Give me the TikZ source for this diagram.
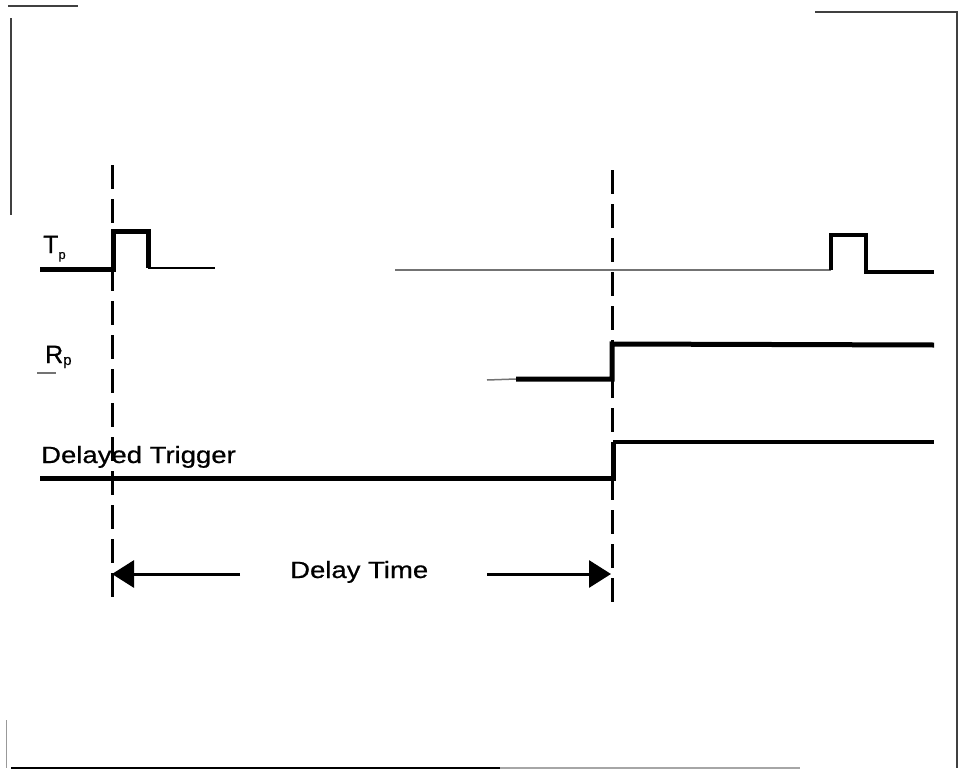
\documentclass[tikz,border=0pt]{standalone}
\usepackage{fontspec}
\usepackage{graphicx}
\setmainfont{Liberation Sans}[FakeBold=0.6]
\usetikzlibrary{arrows.meta}
\tikzset{
  sig/.style={line width=5pt, line join=miter, line cap=butt},
  sigmid/.style={line width=4pt, line join=miter},
  sigthin/.style={line width=2.5pt},
  faint/.style={line width=1.8pt, draw=black!55},
  dashline/.style={line width=3pt, dash pattern=on 24pt off 10pt},
  frame/.style={line width=1.5pt, draw=black!75},
  dim/.style={line width=3pt, -{Triangle[length=22pt,width=27pt]}},
  lbl/.style={inner sep=0pt, font=\fontsize{23.5}{27}\selectfont},
  sublbl/.style={inner sep=0pt, font=\fontsize{25}{28}\selectfont}
}
\begin{document}
\begin{tikzpicture}[x=1pt,y=-1pt]
\useasboundingbox (0,0) rectangle (961,771);
% frame remnants
\draw[frame] (8,6) -- (78,6);
\draw[frame] (11,18) -- (11,215);
\draw[frame] (815,12) -- (957,12) -- (957,768);
\draw[frame, draw=black!40, line width=1pt] (6,720) -- (6,768);
\draw[line width=2.5pt] (11,768) -- (500,768);
\draw[line width=2pt, draw=black!35] (500,768) -- (800,768);

% dashed time markers
\coordinate (d1t) at (112,165);
\coordinate (d1b) at (112,605);
\coordinate (d2t) at (612,170);
\coordinate (d2b) at (612,605);
\draw[dashline] (d1t) -- (d1b);
\draw[dashline] (d2t) -- (d2b);

% T_p signal
\coordinate (t0) at (40,269);
\coordinate (t1) at (113,269);
\coordinate (t2) at (113,231);
\coordinate (t3) at (148,231);
\coordinate (t4) at (148,268);
\coordinate (t5) at (215,268);
\draw[sig] (t0) -- (t1) -- (t2) -- (t3) -- (t4);
\draw[sigthin] (t4) -- (t5);
\coordinate (u0) at (395,270);
\coordinate (u1) at (831,270);
\coordinate (u2) at (831,235);
\coordinate (u3) at (866,235);
\coordinate (u4) at (866,272);
\coordinate (u5) at (934,272);
\draw[faint] (u0) -- (u1);
\draw[sigmid] (u1) -- (u2) -- (u3) -- (u4) -- (u5);
\node[sublbl, anchor=base west] (tp) at (43,253) {T\raisebox{-6pt}{\fontsize{13}{13}\selectfont p}};

% R_p signal
\coordinate (r0) at (487,380);
\coordinate (r1) at (516,379);
\coordinate (r2) at (612,379);
\coordinate (r3) at (612,344);
\coordinate (r4) at (934,345);
\draw[faint, line width=1.5pt] (r0) -- (r1);
\draw[sig] (r1) -- (r2) -- (r3) -- (r4);
\node[sublbl, anchor=base west] (rp) at (45,363) {R\raisebox{-2pt}{\fontsize{15}{15}\selectfont p}};
\coordinate (ru0) at (37,373);
\coordinate (ru1) at (56,373);
\draw[faint, line width=1.5pt] (ru0) -- (ru1);

% Delayed trigger
\coordinate (g0) at (40,478);
\coordinate (g1) at (613,478);
\coordinate (g2) at (613,442);
\coordinate (g3) at (934,442);
\draw[sig] (g0) -- (g1) -- (g2);
\draw[sigmid] (g2) -- (g3);
\node[lbl, anchor=base west] (dt) at (41,463) {\scalebox{1.17}[1]{Delayed Trigger}};

% delay time dimension
\node[lbl, anchor=base west] (dly) at (290,578) {\scalebox{1.17}[1]{Delay Time}};
\coordinate (al) at (240,574);
\coordinate (ar) at (487,574);
\coordinate (tipl) at (112,574);
\coordinate (tipr) at (611,574);
\draw[dim] (al) -- (tipl);
\draw[dim] (ar) -- (tipr);
\end{tikzpicture}
\end{document}
